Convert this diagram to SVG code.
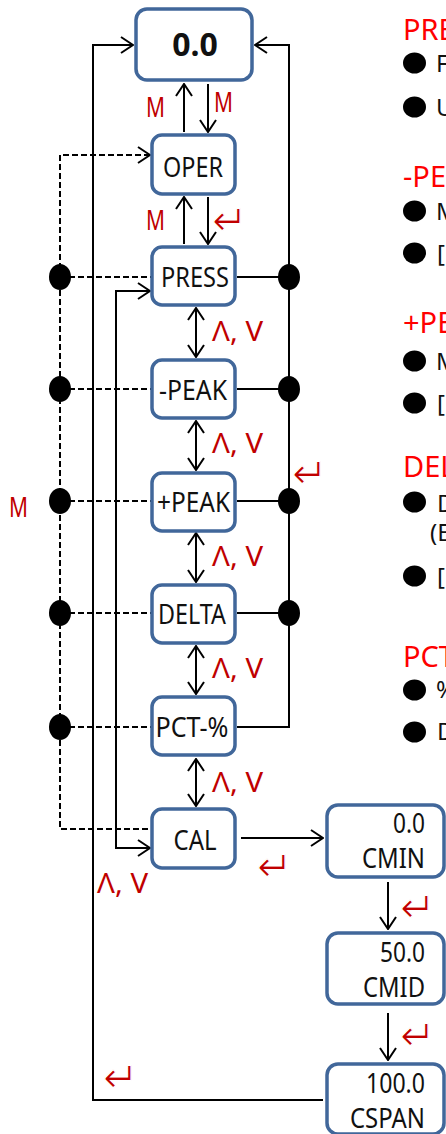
<svg xmlns="http://www.w3.org/2000/svg" width="446" height="1134" viewBox="0 0 446 1134">
<style>
.box{fill:#fff;stroke:#41679A;stroke-width:3.5}
.lbl{font-family:"Noto Sans","Open Sans",sans-serif;font-size:27px;fill:#111;text-anchor:middle}
.val{font-family:"Noto Sans","Open Sans",sans-serif;font-size:27px;fill:#111;text-anchor:end}
.ln{fill:none;stroke:#000;stroke-width:2}
.ds{fill:none;stroke:#000;stroke-width:2;stroke-dasharray:6 3}
.red{font-family:"Noto Sans","Open Sans",sans-serif;font-size:27px;fill:#C00000}
.ent{font-family:"DejaVu Sans",sans-serif;font-size:43px;fill:#C00000;stroke:#fff;stroke-width:1.2px;text-anchor:middle}
.ud{font-family:"Noto Sans","Open Sans",sans-serif;font-size:27px;fill:#C00000}
.hd{font-family:"Noto Sans","Open Sans",sans-serif;font-size:29px;fill:#FF0000}
.tx{font-family:"Noto Sans","Open Sans",sans-serif;font-size:24px;fill:#111}
</style>
<defs>
<marker id="ah" viewBox="0 0 14 18" refX="13" refY="9" markerWidth="14" markerHeight="18" orient="auto-start-reverse" markerUnits="userSpaceOnUse">
<path d="M1,1 L13,9 L1,17" fill="none" stroke="#000" stroke-width="2"/>
</marker>
</defs>
<g id="connectors">
<path class="ln" d="M323,1100 H93 V45 H133" marker-end="url(#ah)"/>
<path class="ln" d="M237,727 H289 V45 H255" marker-end="url(#ah)"/>
<path class="ln" d="M237,277 H289 M237,389 H289 M237,501 H289 M237,613 H289"/>
<path class="ln" d="M184,132 V84" marker-end="url(#ah)"/>
<path class="ln" d="M208,84 V132" marker-end="url(#ah)"/>
<path class="ln" d="M184,244 V197" marker-end="url(#ah)"/>
<path class="ln" d="M208,197 V244" marker-end="url(#ah)"/>
<path class="ln" d="M196,308 V357" marker-start="url(#ah)" marker-end="url(#ah)"/>
<path class="ln" d="M196,421 V470" marker-start="url(#ah)" marker-end="url(#ah)"/>
<path class="ln" d="M196,533 V582" marker-start="url(#ah)" marker-end="url(#ah)"/>
<path class="ln" d="M196,646 V694" marker-start="url(#ah)" marker-end="url(#ah)"/>
<path class="ln" d="M196,759 V806" marker-start="url(#ah)" marker-end="url(#ah)"/>
<path class="ds" d="M150,155 H60 V829 H152" marker-start="url(#ah)"/>
<path class="ds" d="M60,277 H152 M60,389 H152 M60,501 H152 M60,613 H152 M60,727 H152"/>
<path class="ln" d="M150,291 H116 V848 H150" marker-start="url(#ah)" marker-end="url(#ah)"/>
<path class="ln" d="M241,838 H323" marker-end="url(#ah)"/>
<path class="ln" d="M388,882 V929" marker-end="url(#ah)"/>
<path class="ln" d="M388,1013 V1060" marker-end="url(#ah)"/>
<g fill="#000">
<ellipse cx="60" cy="277" rx="11" ry="13"/>
<ellipse cx="60" cy="389" rx="11" ry="13"/>
<ellipse cx="60" cy="501" rx="11" ry="13"/>
<ellipse cx="60" cy="613" rx="11" ry="13"/>
<ellipse cx="60" cy="727" rx="11" ry="13"/>
<ellipse cx="289" cy="277" rx="11" ry="13"/>
<ellipse cx="289" cy="389" rx="11" ry="13"/>
<ellipse cx="289" cy="501" rx="11" ry="13"/>
<ellipse cx="289" cy="613" rx="11" ry="13"/>
</g>
</g>
<g id="labels">
<text class="red" x="146" y="117" textLength="19" lengthAdjust="spacingAndGlyphs">M</text>
<text class="red" x="214" y="112" textLength="19" lengthAdjust="spacingAndGlyphs">M</text>
<text class="red" x="146" y="230" textLength="19" lengthAdjust="spacingAndGlyphs">M</text>
<text class="red" x="9" y="517" textLength="19" lengthAdjust="spacingAndGlyphs">M</text>
<text class="ent" x="230" y="235">↵</text>
<text class="ent" x="310" y="488">↵</text>
<text class="ent" x="275" y="881">↵</text>
<text class="ent" x="418" y="922">↵</text>
<text class="ent" x="418" y="1050">↵</text>
<text class="ent" x="121" y="1092">↵</text>
<text class="ud" x="212" y="341" textLength="51" lengthAdjust="spacingAndGlyphs">Λ, V</text>
<text class="ud" x="212" y="453" textLength="51" lengthAdjust="spacingAndGlyphs">Λ, V</text>
<text class="ud" x="212" y="566" textLength="51" lengthAdjust="spacingAndGlyphs">Λ, V</text>
<text class="ud" x="212" y="678" textLength="51" lengthAdjust="spacingAndGlyphs">Λ, V</text>
<text class="ud" x="212" y="792" textLength="51" lengthAdjust="spacingAndGlyphs">Λ, V</text>
<text class="ud" x="97" y="893" textLength="51" lengthAdjust="spacingAndGlyphs">Λ, V</text>
</g>
<g id="n-zero"><rect class="box" x="136" y="9" width="116" height="71" rx="11"/><text class="lbl" x="195" y="56" style="font-weight:bold;font-size:32px">0.0</text></g>
<g id="n-oper"><rect class="box" x="152" y="135" width="83" height="59" rx="10"/><text class="lbl" x="193" y="177" textLength="60" lengthAdjust="spacingAndGlyphs">OPER</text></g>
<g id="n-press"><rect class="box" x="152" y="247" width="83" height="58" rx="10"/><text class="lbl" x="195" y="287" textLength="68" lengthAdjust="spacingAndGlyphs">PRESS</text></g>
<g id="n-mpeak"><rect class="box" x="152" y="360" width="83" height="58" rx="10"/><text class="lbl" x="193" y="400" textLength="68" lengthAdjust="spacingAndGlyphs">-PEAK</text></g>
<g id="n-ppeak"><rect class="box" x="152" y="473" width="83" height="58" rx="10"/><text class="lbl" x="193.5" y="512" textLength="73" lengthAdjust="spacingAndGlyphs">+PEAK</text></g>
<g id="n-delta"><rect class="box" x="152" y="585" width="83" height="58" rx="10"/><text class="lbl" x="192" y="624" textLength="68" lengthAdjust="spacingAndGlyphs">DELTA</text></g>
<g id="n-pct"><rect class="box" x="152" y="697" width="83" height="58" rx="10"/><text class="lbl" x="192" y="737" textLength="73" lengthAdjust="spacingAndGlyphs">PCT-%</text></g>
<g id="n-cal"><rect class="box" x="152" y="809" width="83" height="59" rx="10"/><text class="lbl" x="195" y="850" textLength="43" lengthAdjust="spacingAndGlyphs">CAL</text></g>
<g id="n-cmin"><rect class="box" x="327" y="805" width="117" height="72" rx="11"/><text class="val" x="425" y="833" textLength="32" lengthAdjust="spacingAndGlyphs">0.0</text><text class="val" x="425" y="868" textLength="63" lengthAdjust="spacingAndGlyphs">CMIN</text></g>
<g id="n-cmid"><rect class="box" x="327" y="933" width="117" height="71" rx="11"/><text class="val" x="425" y="962" textLength="45" lengthAdjust="spacingAndGlyphs">50.0</text><text class="val" x="425" y="997" textLength="62" lengthAdjust="spacingAndGlyphs">CMID</text></g>
<g id="n-cspan"><rect class="box" x="327" y="1064" width="117" height="70" rx="11"/><text class="val" x="425" y="1093" textLength="59" lengthAdjust="spacingAndGlyphs">100.0</text><text class="val" x="425" y="1128" textLength="75" lengthAdjust="spacingAndGlyphs">CSPAN</text></g>
<g id="notes">
<text class="hd" x="403" y="40">PRE</text>
<text class="hd" x="403" y="187">-PE</text>
<text class="hd" x="403" y="333">+PE</text>
<text class="hd" x="403" y="477">DEL</text>
<text class="hd" x="403" y="667">PCT</text>
<g fill="#000">
<ellipse cx="414.5" cy="63" rx="11.5" ry="10.5"/>
<ellipse cx="414.5" cy="107" rx="11.5" ry="10.5"/>
<ellipse cx="414.5" cy="211" rx="11.5" ry="10.5"/>
<ellipse cx="414.5" cy="253" rx="11.5" ry="10.5"/>
<ellipse cx="414.5" cy="361" rx="11.5" ry="10.5"/>
<ellipse cx="414.5" cy="403" rx="11.5" ry="10.5"/>
<ellipse cx="414.5" cy="502" rx="11.5" ry="10.5"/>
<ellipse cx="414.5" cy="576" rx="11.5" ry="10.5"/>
<ellipse cx="414.5" cy="690" rx="11.5" ry="10.5"/>
<ellipse cx="414.5" cy="732" rx="11.5" ry="10.5"/>
</g>
<text class="tx" x="436" y="72">F</text>
<text class="tx" x="436" y="116">U</text>
<text class="tx" x="436" y="220">M</text>
<text class="tx" x="437" y="262">[</text>
<text class="tx" x="436" y="370">M</text>
<text class="tx" x="437" y="412">[</text>
<text class="tx" x="437" y="512">D</text>
<text class="tx" x="430" y="541">(E</text>
<text class="tx" x="437" y="585">[</text>
<text class="tx" x="436" y="698">%</text>
<text class="tx" x="437" y="740">D</text>
</g>
</svg>
